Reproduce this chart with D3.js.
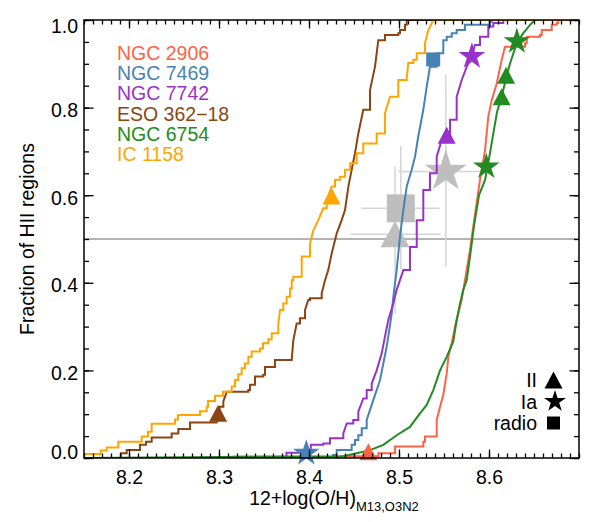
<!DOCTYPE html>
<html>
<head>
<meta charset="utf-8">
<script src="https://cdn.jsdelivr.net/npm/d3@7"></script>
<style>
  body { margin: 0; background: #fff; }
  text { font-family: "Liberation Sans", Arial, Helvetica, sans-serif; }
</style>
</head>
<body>
<svg id="chart" width="598" height="522"></svg>
<script>
// galaxies, in legend order
var galaxyNames = ["NGC 2906", "NGC 7469", "NGC 7742", "ESO 362\u221218", "NGC 6754", "IC 1158"];
var galaxyColors = ["#FF6347", "#4682B4", "#9932CC", "#8B4513", "#228B22", "#FFA500"];

// cumulative distributions: metallicity where the fraction steps up, and the fraction after the step
var ngc2906_z = [8.15, 8.434, 8.477, 8.4956, 8.527, 8.5289, 8.5419, 8.5456, 8.5492, 8.553, 8.5548, 8.5586, 8.5622, 8.5659, 8.5697, 8.5733, 8.5789, 8.5844, 8.59, 8.5956, 8.5992, 8.603, 8.6086, 8.6141, 8.6178, 8.64, 8.6419, 8.6567, 8.6586, 8.6697, 8.6752, 8.677];
var ngc2906_f = [0, 0.004, 0.011, 0.026, 0.037, 0.049, 0.087, 0.117, 0.144, 0.193, 0.231, 0.262, 0.300, 0.330, 0.361, 0.406, 0.475, 0.555, 0.635, 0.703, 0.779, 0.817, 0.855, 0.909, 0.939, 0.947, 0.962, 0.966, 0.977, 0.989, 0.993, 1.0];

var ngc7469_z = [8.15, 8.4267, 8.4308, 8.4474, 8.4511, 8.4548, 8.4586, 8.4641, 8.4678, 8.4714, 8.4752, 8.4789, 8.4826, 8.4863, 8.4892, 8.4919, 8.4937, 8.4974, 8.5011, 8.5048, 8.5086, 8.5141, 8.5178, 8.5214, 8.527, 8.5308, 8.5344, 8.5419, 8.5492, 8.553, 8.5586, 8.5641, 8.5733, 8.6011, 8.603];
var ngc7469_f = [0, 0.007, 0.018, 0.030, 0.041, 0.052, 0.068, 0.087, 0.110, 0.132, 0.155, 0.178, 0.216, 0.254, 0.292, 0.330, 0.368, 0.429, 0.505, 0.566, 0.620, 0.658, 0.688, 0.734, 0.795, 0.848, 0.893, 0.924, 0.954, 0.962, 0.970, 0.977, 0.989, 0.996, 1.0];

var ngc7742_z = [8.15, 8.316, 8.375, 8.402, 8.4159, 8.4233, 8.4381, 8.4419, 8.4492, 8.4548, 8.4603, 8.4641, 8.4697, 8.4752, 8.4808, 8.4844, 8.4881, 8.4937, 8.4974, 8.5011, 8.5048, 8.5122, 8.5197, 8.527, 8.5344, 8.5419, 8.5474, 8.5567, 8.5641, 8.5697, 8.5752, 8.5808, 8.5844, 8.59, 8.5992, 8.6048, 8.6159];
var ngc7742_f = [0, 0.003, 0.012, 0.030, 0.033, 0.045, 0.056, 0.079, 0.087, 0.106, 0.136, 0.155, 0.170, 0.200, 0.239, 0.277, 0.315, 0.353, 0.384, 0.406, 0.429, 0.482, 0.543, 0.612, 0.650, 0.688, 0.726, 0.772, 0.825, 0.863, 0.893, 0.917, 0.943, 0.962, 0.985, 0.993, 1.0];

var eso36218_z = [8.15, 8.191, 8.1974, 8.2122, 8.2189, 8.2252, 8.2474, 8.2548, 8.2678, 8.2974, 8.3011, 8.3048, 8.3086, 8.3326, 8.3344, 8.34, 8.3492, 8.3511, 8.3622, 8.3808, 8.3826, 8.3863, 8.39, 8.3956, 8.3992, 8.4011, 8.4141, 8.4178, 8.4214, 8.4252, 8.4308, 8.4363, 8.44, 8.4437, 8.4474, 8.4511, 8.4548, 8.4603, 8.4678, 8.4733, 8.477, 8.4844, 8.4992, 8.5011, 8.5067, 8.5086];
var eso36218_f = [0, 0.011, 0.018, 0.030, 0.037, 0.047, 0.056, 0.066, 0.081, 0.087, 0.117, 0.129, 0.151, 0.155, 0.167, 0.186, 0.190, 0.208, 0.224, 0.225, 0.269, 0.307, 0.319, 0.338, 0.361, 0.365, 0.376, 0.406, 0.429, 0.467, 0.513, 0.543, 0.566, 0.619, 0.658, 0.696, 0.741, 0.795, 0.840, 0.893, 0.954, 0.966, 0.970, 0.977, 0.989, 1.0];

var ngc6754_z = [8.15, 8.4381, 8.453, 8.4678, 8.4826, 8.4974, 8.5122, 8.5233, 8.5308, 8.5381, 8.5456, 8.553, 8.5603, 8.5641, 8.5678, 8.5714, 8.5752, 8.5789, 8.5833, 8.5889, 8.5956, 8.6011, 8.6048, 8.6089, 8.6141, 8.6197, 8.6233, 8.6308, 8.6381, 8.6456, 8.6511];
var ngc6754_f = [0, 0.004, 0.011, 0.018, 0.030, 0.052, 0.071, 0.102, 0.121, 0.155, 0.200, 0.231, 0.266, 0.315, 0.353, 0.384, 0.406, 0.460, 0.530, 0.600, 0.635, 0.696, 0.741, 0.790, 0.825, 0.874, 0.900, 0.947, 0.970, 0.989, 1.0];

var ic1158_z = [8.15, 8.1686, 8.1752, 8.1881, 8.2141, 8.2211, 8.2252, 8.2511, 8.2544, 8.2789, 8.2863, 8.2878, 8.2956, 8.3044, 8.3141, 8.3178, 8.3214, 8.3252, 8.3289, 8.3326, 8.3363, 8.3456, 8.3489, 8.3548, 8.3586, 8.3659, 8.3678, 8.3714, 8.3752, 8.3789, 8.3808, 8.3826, 8.3919, 8.4011, 8.4048, 8.4103, 8.4159, 8.4197, 8.4252, 8.4289, 8.4344, 8.44, 8.4456, 8.453, 8.4603, 8.4752, 8.4844, 8.49, 8.4992, 8.5086, 8.5103, 8.5159, 8.5197, 8.5289, 8.5326, 8.5381];
var ic1158_f = [0.009, 0.017, 0.024, 0.037, 0.049, 0.060, 0.078, 0.088, 0.098, 0.107, 0.117, 0.130, 0.142, 0.151, 0.163, 0.178, 0.191, 0.205, 0.216, 0.231, 0.243, 0.250, 0.262, 0.271, 0.285, 0.307, 0.338, 0.353, 0.368, 0.387, 0.406, 0.414, 0.460, 0.490, 0.520, 0.543, 0.570, 0.589, 0.620, 0.635, 0.642, 0.658, 0.673, 0.696, 0.718, 0.741, 0.787, 0.825, 0.863, 0.867, 0.902, 0.909, 0.924, 0.947, 0.977, 1.0];

var curveZ = [ngc2906_z, ngc7469_z, ngc7742_z, eso36218_z, ngc6754_z, ic1158_z];
var curveF = [ngc2906_f, ngc7469_f, ngc7742_f, eso36218_f, ngc6754_f, ic1158_f];

// supernova / radio sites (galaxy index into galaxyNames)
var snII_gal = [5, 3, 0, 2, 4, 4];
var snII_z   = [8.425, 8.299, 8.466, 8.553, 8.614, 8.619];
var snII_f   = [0.598, 0.102, 0.014, 0.737, 0.825, 0.874];

var snIa_gal = [1, 2, 4, 4];
var snIa_z   = [8.397, 8.581, 8.597, 8.631];
var snIa_f   = [0.011, 0.917, 0.665, 0.951];

var radio_gal = [1];
var radio_z   = [8.538];
var radio_f   = [0.910];

// mean values with spread, per type
var mean_type = ["II", "radio", "Ia"];
var mean_z    = [8.4956, 8.502, 8.552];
var mean_f    = [0.511, 0.570, 0.654];
var mean_zlo  = [8.446, 8.458, 8.499];
var mean_zhi  = [8.546, 8.545, 8.594];
var mean_flo  = [0.330, 0.430, 0.437];
var mean_fhi  = [0.665, 0.713, 0.875];

var xTicks = [8.2, 8.3, 8.4, 8.5, 8.6];
var xTickLabels = ["8.2", "8.3", "8.4", "8.5", "8.6"];
var yTicks = [0, 0.2, 0.4, 0.6, 0.8, 1.0];
var yTickLabels = ["0.0", "0.2", "0.4", "0.6", "0.8", "1.0"];

var legendTypes = ["II", "Ia", "radio"];

var margin = {left: 84, top: 20};
var width = 495, height = 438;

var svg = d3.select("#chart");
var g = svg.append("g").attr("transform", "translate(" + margin.left + "," + margin.top + ")");

var x = d3.scaleLinear().domain([8.15, 8.70]).range([0, width]);
var y = d3.scaleLinear().domain([0, 1]).range([height, 0]);

g.append("clipPath").attr("id", "plotclip")
  .append("rect").attr("width", width).attr("height", height);

var plot = g.append("g").attr("clip-path", "url(#plotclip)");

// half-way line
plot.append("line")
  .attr("x1", 0).attr("x2", width)
  .attr("y1", y(0.5)).attr("y2", y(0.5))
  .attr("stroke", "#9a9a9a").attr("stroke-width", 1.3);

function triPath(cx, cy, w, h) {
  return "M" + cx + "," + (cy - h / 2) + "L" + (cx + w / 2) + "," + (cy + h / 2) + "L" + (cx - w / 2) + "," + (cy + h / 2) + "Z";
}
function starPath(cx, cy, R) {
  var r = R * 0.382, p = [];
  for (var k = 0; k < 10; k++) {
    var rad = k % 2 == 0 ? R : r;
    var a = -Math.PI / 2 + k * Math.PI / 5;
    p.push([cx + rad * Math.cos(a), cy + rad * Math.sin(a)]);
  }
  return "M" + p.join("L") + "Z";
}
function squarePath(cx, cy, s) {
  return "M" + (cx - s / 2) + "," + (cy - s / 2) + "h" + s + "v" + s + "h" + (-s) + "Z";
}
function markerPath(type, cx, cy, big) {
  if (type == "II") return big ? triPath(cx, cy, 29, 26) : triPath(cx, cy, 18, 17);
  if (type == "Ia") return big ? starPath(cx, cy, 22) : starPath(cx, cy, 14);
  return big ? squarePath(cx, cy, 28) : squarePath(cx, cy, 14);
}

// error bars of the means
mean_type.forEach(function(t, i) {
  plot.append("line")
    .attr("x1", x(mean_zlo[i])).attr("x2", x(mean_zhi[i]))
    .attr("y1", y(mean_f[i])).attr("y2", y(mean_f[i]))
    .attr("stroke", "#d4d4d4").attr("stroke-width", 1.5);
  plot.append("line")
    .attr("x1", x(mean_z[i])).attr("x2", x(mean_z[i]))
    .attr("y1", y(mean_flo[i])).attr("y2", y(mean_fhi[i]))
    .attr("stroke", "#d4d4d4").attr("stroke-width", 1.5);
});
mean_type.forEach(function(t, i) {
  plot.append("path")
    .attr("d", markerPath(t, x(mean_z[i]), y(mean_f[i]), true))
    .attr("fill", "#bebebe");
});

// cumulative curves: flat steps where the rise is small, straight where many
// tiny steps stack up into a steep rise
function stepPoints(zs, fs) {
  var pts = [[zs[0], fs[0]]];
  for (var j = 1; j < zs.length; j++) {
    var dz = zs[j] - zs[j - 1], df = fs[j] - fs[j - 1];
    if (!(dz < 0.006 && df > 0.02)) pts.push([zs[j], fs[j - 1]]);
    pts.push([zs[j], fs[j]]);
  }
  pts.push([8.70, 1.0]);
  return pts;
}

var line = d3.line()
  .x(function(d) { return x(d[0]); })
  .y(function(d) { return y(d[1]); });

galaxyNames.forEach(function(name, i) {
  var pts;
  if (i == 4) {
    pts = curveZ[i].map(function(z, j) { return [z, curveF[i][j]]; });
    pts.push([8.70, 1.0]);
  } else {
    pts = stepPoints(curveZ[i], curveF[i]);
  }
  plot.append("path")
    .datum(pts)
    .attr("d", line)
    .attr("fill", "none")
    .attr("stroke", galaxyColors[i])
    .attr("stroke-width", 2);
});

// site markers (not clipped, they may poke out of the frame)
var marks = g.append("g");
snII_z.forEach(function(z, i) {
  marks.append("path").attr("d", markerPath("II", x(z), y(snII_f[i]), false)).attr("fill", galaxyColors[snII_gal[i]]);
});
snIa_z.forEach(function(z, i) {
  marks.append("path").attr("d", markerPath("Ia", x(z), y(snIa_f[i]), false)).attr("fill", galaxyColors[snIa_gal[i]]);
});
radio_z.forEach(function(z, i) {
  marks.append("path").attr("d", markerPath("radio", x(z), y(radio_f[i]), false)).attr("fill", galaxyColors[radio_gal[i]]);
});

// axes
var xMinor = d3.range(815, 871).map(function(v) { return v / 100; });
var yMinor = d3.range(0, 21).map(function(v) { return v / 20; });

function styleAxis(sel) {
  sel.select(".domain").remove();
  sel.selectAll("line").attr("stroke", "#000").attr("stroke-width", 1.3);
  sel.selectAll("text").attr("fill", "#000").style("font-size", "19.5px");
}

g.append("g").attr("transform", "translate(0," + height + ")")
  .call(d3.axisBottom(x).tickValues(xMinor).tickSize(-4.5).tickFormat(""))
  .call(styleAxis);
g.append("g").attr("transform", "translate(0," + height + ")")
  .call(d3.axisBottom(x).tickValues(xTicks).tickSize(-8.5).tickPadding(12)
    .tickFormat(function(d, i) { return xTickLabels[i]; }))
  .call(styleAxis);
g.append("g")
  .call(d3.axisTop(x).tickValues(xMinor).tickSize(-4.5).tickFormat(""))
  .call(styleAxis);
g.append("g")
  .call(d3.axisTop(x).tickValues(xTicks).tickSize(-8.5).tickFormat(""))
  .call(styleAxis);

g.append("g")
  .call(d3.axisLeft(y).tickValues(yMinor).tickSize(-5).tickFormat(""))
  .call(styleAxis);
var yAx = g.append("g")
  .call(d3.axisLeft(y).tickValues(yTicks).tickSize(-9.5).tickPadding(6)
    .tickFormat(function(d, i) { return yTickLabels[i]; }))
  .call(styleAxis);
yAx.selectAll("text").attr("dy", function(d) {
  if (d == 0) return "0.05em";
  if (d == 1) return "0.62em";
  return "0.46em";
});
g.append("g").attr("transform", "translate(" + width + ",0)")
  .call(d3.axisRight(y).tickValues(yMinor).tickSize(-5).tickFormat(""))
  .call(styleAxis);
g.append("g").attr("transform", "translate(" + width + ",0)")
  .call(d3.axisRight(y).tickValues(yTicks).tickSize(-9.5).tickFormat(""))
  .call(styleAxis);

g.append("rect")
  .attr("width", width).attr("height", height)
  .attr("fill", "none").attr("stroke", "#000").attr("stroke-width", 1.5);

// axis titles
var xt = g.append("text")
  .attr("x", 250).attr("y", height + 47)
  .attr("text-anchor", "middle")
  .style("font-size", "19.5px");
xt.append("tspan").text("12+log(O/H)");
xt.append("tspan").attr("dy", 6).style("font-size", "13px").text("M13,O3N2");

g.append("text")
  .attr("transform", "translate(-57," + (height / 2) + ") rotate(-90)")
  .attr("text-anchor", "middle")
  .attr("dy", "0.36em")
  .style("font-size", "19.5px")
  .text("Fraction of HII regions");

// galaxy legend
galaxyNames.forEach(function(name, i) {
  g.append("text")
    .attr("x", 33).attr("y", 33 + i * 20.2)
    .attr("dy", "0.36em")
    .attr("fill", galaxyColors[i])
    .style("font-size", "19.5px")
    .text(name);
});

// marker legend
legendTypes.forEach(function(t, i) {
  var cy = 360 + i * 21.5;
  g.append("text")
    .attr("x", 453).attr("y", cy)
    .attr("dy", "0.36em")
    .attr("text-anchor", "end")
    .style("font-size", "19.5px")
    .text(t);
  var r = t == "Ia" ? starPath(471, cy, 11.5) : (t == "II" ? triPath(469.5, cy, 18, 17) : squarePath(469.5, cy, 13));
  g.append("path").attr("d", r).attr("fill", "#000");
});
</script>
</body>
</html>
